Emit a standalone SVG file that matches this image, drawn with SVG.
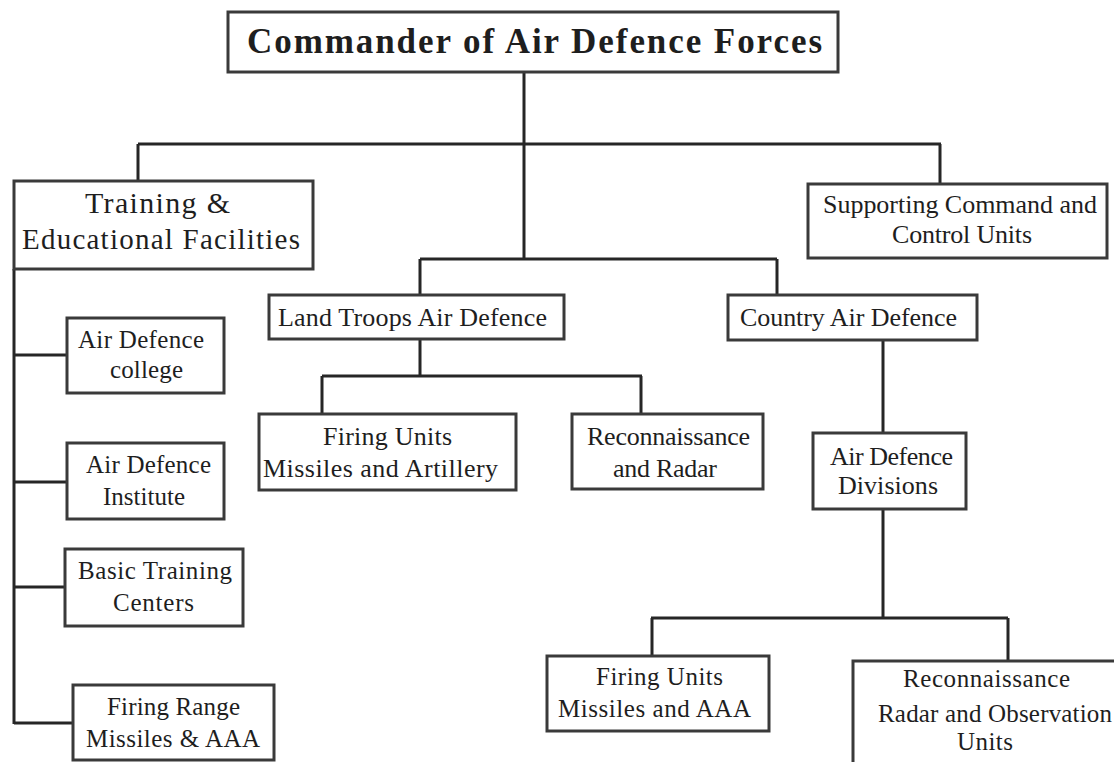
<svg xmlns="http://www.w3.org/2000/svg" width="1114" height="762" viewBox="0 0 1114 762">
<style>
.box{fill:#fff;stroke:#3a3a3a;stroke-width:3}
.ln{fill:none;stroke:#262626;stroke-width:3}
text{font-family:"Liberation Serif","Times New Roman",serif;fill:#1e1e1e;font-size:25px}
.t{font-weight:bold;font-size:35px}
.xl{font-size:30px}
.l{font-size:29px}
.m{font-size:26px}
</style>
<rect width="1114" height="762" fill="#fff"/>
<g id="connectors">
<path class="ln" d="M524 72V259M138 144H941M138 144V181M940 144V184"/>
<path class="ln" d="M420 259H777M420 259V295M777 259V295"/>
<path class="ln" d="M420 339V376M322 376H642M322 376V414M641 376V414"/>
<path class="ln" d="M883 340V433M883 510V618M651 618H1008M652 618V656M1008 618V661"/>
<path class="ln" d="M14 269V724M14 355H67M14 482H67M14 587H65M14 723H73"/>
</g>
<g id="commander">
<rect class="box" x="228" y="12" width="610" height="60"/>
<text class="t" x="247" y="53" textLength="575" lengthAdjust="spacing">Commander of Air Defence Forces</text>
</g>
<g id="training">
<rect class="box" x="14" y="181" width="299" height="88"/>
<text class="xl" x="85" y="213" textLength="145" lengthAdjust="spacing">Training &amp;</text>
<text class="l" x="22" y="249" textLength="278" lengthAdjust="spacing">Educational Facilities</text>
</g>
<g id="supporting">
<rect class="box" x="808" y="184" width="299" height="74"/>
<text class="m" x="823" y="213" textLength="274" lengthAdjust="spacing">Supporting Command and</text>
<text class="m" x="892" y="243" textLength="140" lengthAdjust="spacing">Control Units</text>
</g>
<g id="land">
<rect class="box" x="269" y="295" width="295" height="44"/>
<text class="m" x="278" y="326" textLength="269" lengthAdjust="spacing">Land Troops Air Defence</text>
</g>
<g id="country">
<rect class="box" x="728" y="295" width="249" height="45"/>
<text class="m" x="740" y="326" textLength="217" lengthAdjust="spacing">Country Air Defence</text>
</g>
<g id="firing-land">
<rect class="box" x="259" y="414" width="257" height="76"/>
<text class="m" x="323" y="445" textLength="129" lengthAdjust="spacing">Firing Units</text>
<text class="m" x="263" y="477" textLength="235" lengthAdjust="spacing">Missiles and Artillery</text>
</g>
<g id="recon-land">
<rect class="box" x="572" y="414" width="191" height="75"/>
<text class="m" x="587" y="445" textLength="163" lengthAdjust="spacing">Reconnaissance</text>
<text class="m" x="613" y="477" textLength="104" lengthAdjust="spacing">and Radar</text>
</g>
<g id="divisions">
<rect class="box" x="813" y="433" width="153" height="76"/>
<text class="m" x="830" y="465" textLength="123" lengthAdjust="spacing">Air Defence</text>
<text class="m" x="838" y="494" textLength="100" lengthAdjust="spacing">Divisions</text>
</g>
<g id="firing-country">
<rect class="box" x="547" y="656" width="222" height="75"/>
<text x="596" y="685" textLength="127" lengthAdjust="spacing">Firing Units</text>
<text x="558" y="717" textLength="193" lengthAdjust="spacing">Missiles and AAA</text>
</g>
<g id="recon-country">
<rect class="box" x="853" y="661" width="280" height="120"/>
<text x="903" y="687" textLength="167" lengthAdjust="spacing">Reconnaissance</text>
<text x="878" y="722" textLength="234" lengthAdjust="spacing">Radar and Observation</text>
<text x="957" y="750" textLength="56" lengthAdjust="spacing">Units</text>
</g>
<g id="college">
<rect class="box" x="67" y="318" width="157" height="75"/>
<text x="78" y="348" textLength="126" lengthAdjust="spacing">Air Defence</text>
<text x="110" y="378" textLength="73" lengthAdjust="spacing">college</text>
</g>
<g id="institute">
<rect class="box" x="67" y="443" width="157" height="76"/>
<text x="86" y="473" textLength="125" lengthAdjust="spacing">Air Defence</text>
<text x="103" y="505" textLength="82" lengthAdjust="spacing">Institute</text>
</g>
<g id="basic">
<rect class="box" x="65" y="549" width="178" height="77"/>
<text x="78" y="579" textLength="154" lengthAdjust="spacing">Basic Training</text>
<text x="113" y="611" textLength="81" lengthAdjust="spacing">Centers</text>
</g>
<g id="range">
<rect class="box" x="73" y="685" width="201" height="75"/>
<text x="107" y="715" textLength="133" lengthAdjust="spacing">Firing Range</text>
<text x="86" y="747" textLength="174" lengthAdjust="spacing">Missiles &amp; AAA</text>
</g>
</svg>
